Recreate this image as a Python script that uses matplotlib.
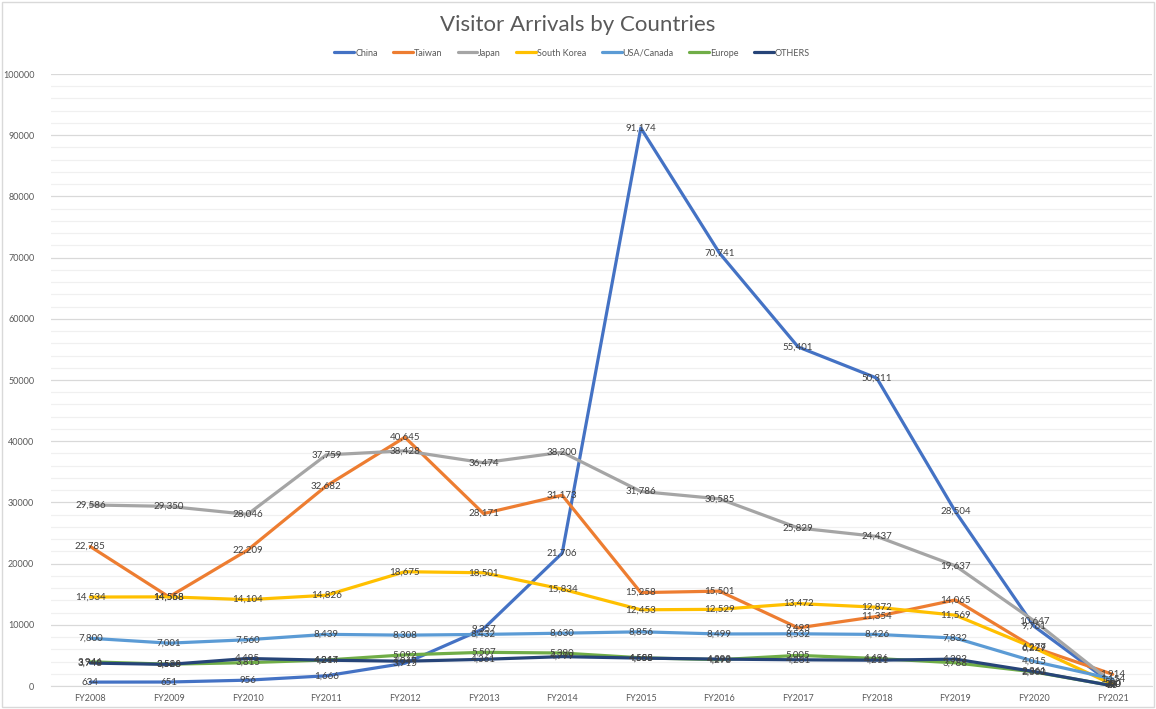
import matplotlib
matplotlib.use("Agg")
import matplotlib.pyplot as plt
from matplotlib.patches import Rectangle
from matplotlib.ticker import MultipleLocator, FuncFormatter

plt.rcParams["font.family"] = ["Lato", "DejaVu Sans"]

years = ["FY2008", "FY2009", "FY2010", "FY2011", "FY2012", "FY2013", "FY2014",
         "FY2015", "FY2016", "FY2017", "FY2018", "FY2019", "FY2020", "FY2021"]

china = [634, 651, 956, 1666, 3715, 9357, 21706, 91174, 70741, 55401, 50311, 28504, 9761, 300]
taiwan = [22785, 14558, 22209, 32682, 40645, 28171, 31173, 15258, 15501, 9493, 11354, 14065, 6277, 1914]
japan = [29586, 29350, 28046, 37759, 38428, 36474, 38200, 31786, 30585, 25829, 24437, 19637, 10647, 500]
korea = [14534, 14568, 14104, 14826, 18675, 18501, 15834, 12453, 12529, 13472, 12872, 11569, 6229, 250]
usa_canada = [7800, 7001, 7560, 8439, 8308, 8432, 8630, 8856, 8499, 8532, 8426, 7832, 4015, 1154]
europe = [3946, 3566, 3815, 4244, 5092, 5507, 5390, 4608, 4298, 5005, 4496, 3788, 2300, 49]
others = [3748, 3528, 4495, 4217, 4049, 4361, 4799, 4555, 4393, 4281, 4211, 4393, 2361, 26]

series = [
    ("China", china, "#4472C4"),
    ("Taiwan", taiwan, "#ED7D31"),
    ("Japan", japan, "#A5A5A5"),
    ("South Korea", korea, "#FFC000"),
    ("USA/Canada", usa_canada, "#5B9BD5"),
    ("Europe", europe, "#70AD47"),
    ("OTHERS", others, "#264478"),
]

W, H = 1156, 709
fig = plt.figure(figsize=(W / 100, H / 100), dpi=100)
fig.patch.set_facecolor("white")
fig.add_artist(Rectangle((2 / W, 2 / H), (W - 4) / W, (H - 4) / H, transform=fig.transFigure,
                         fill=False, edgecolor="#d9d9d9", linewidth=1))

ax = fig.add_axes([51 / W, (H - 686) / H, (1152 - 51) / W, (686 - 74) / H])
x = list(range(len(years)))

for name, vals, color in series:
    ax.plot(x, vals, color=color, linewidth=2.3, label=name, solid_capstyle="round", zorder=3)

# data labels sit centred on each point, as in the spreadsheet chart
for name, vals, color in series:
    for xi, v in zip(x, vals):
        ax.text(xi, v, f"{v:,}", ha="center", va="center", fontsize=7, color="#404040", zorder=4)

ax.set_xlim(-0.5, len(years) - 0.5)
ax.set_ylim(0, 100000)
ax.yaxis.set_major_locator(MultipleLocator(10000))
ax.yaxis.set_minor_locator(MultipleLocator(2000))
ax.yaxis.set_major_formatter(FuncFormatter(lambda v, p: f"{int(v)}"))
ax.grid(axis="y", which="major", color="#d9d9d9", linewidth=0.9, zorder=0)
ax.grid(axis="y", which="minor", color="#f0f0f0", linewidth=0.9, zorder=0)
ax.set_xticks(x)
ax.set_xticklabels(years)
ax.tick_params(axis="both", which="both", length=0, labelsize=6.5, labelcolor="#595959")
ax.tick_params(axis="y", pad=12)
ax.tick_params(axis="x", pad=6)
for side in ["top", "right", "left"]:
    ax.spines[side].set_visible(False)
ax.spines["bottom"].set_color("#d9d9d9")

fig.text(0.5, (H - 25) / H, "Visitor Arrivals by Countries", ha="center", va="center",
         fontsize=16, color="#595959")
fig.legend(loc="center", bbox_to_anchor=(572 / W, (H - 53) / H), ncol=7, frameon=False,
           fontsize=6.5, handlelength=2.2, columnspacing=1.7, handletextpad=0.1,
           labelcolor="#595959")

fig.savefig("out.png", dpi=100)
